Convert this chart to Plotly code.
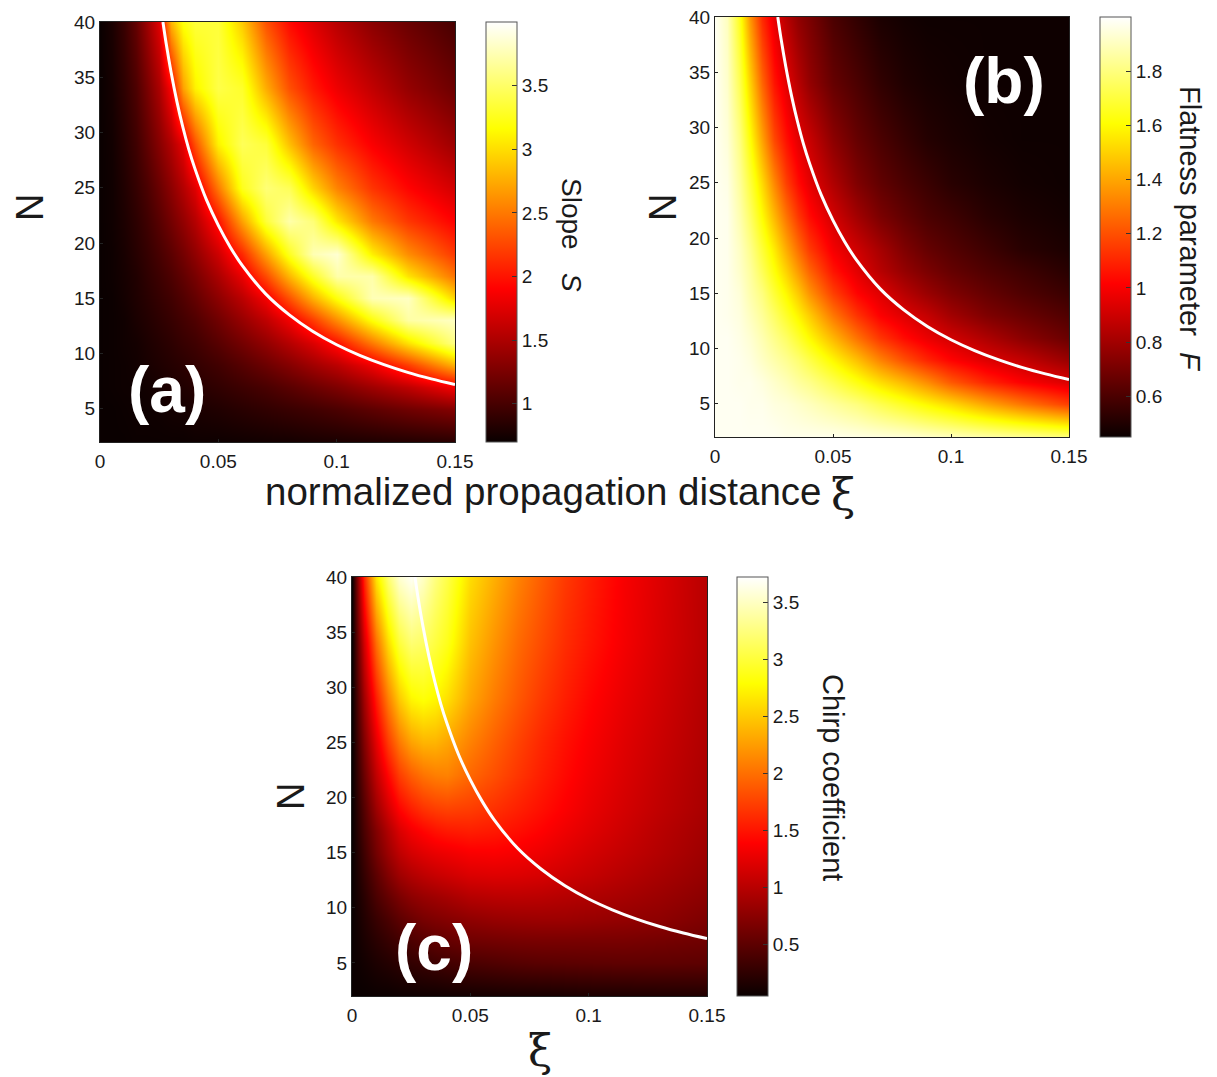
import plotly.graph_objects as go

W, H = 1217, 1077

XI = [0, .005, .01, .015, .02, .025, .03, .035, .04, .05, .06, .07, .08, .09, .10, .115, .13, .15]
NN = [2, 5, 7, 9, 11, 13, 15, 17, 19, 22, 25, 29, 34, 40]

SLOPE = [
    [.70,.70,.70,.71,.71,.71,.71,.71,.72,.72,.73,.74,.75,.77,.78,.80,.82,.85],
    [.70,.70,.71,.72,.72,.73,.75,.76,.78,.81,.85,.89,.93,.97,1.02,1.11,1.20,1.30],
    [.70,.71,.72,.72,.74,.76,.79,.81,.84,.89,.95,1.01,1.09,1.18,1.27,1.43,1.59,1.86],
    [.70,.71,.72,.74,.77,.80,.83,.86,.90,.97,1.07,1.18,1.30,1.44,1.57,1.83,2.2,2.78],
    [.70,.71,.73,.75,.79,.83,.87,.92,.96,1.08,1.22,1.37,1.54,1.73,1.98,2.5,3.02,3.6],
    [.70,.71,.73,.78,.82,.87,.92,.98,1.04,1.20,1.39,1.59,1.84,2.2,2.6,3.19,3.7,3.8],
    [.70,.71,.75,.80,.85,.91,.97,1.05,1.14,1.34,1.57,1.86,2.3,2.78,3.2,3.76,3.8,2.95],
    [.70,.72,.76,.81,.88,.95,1.03,1.13,1.24,1.49,1.8,2.27,2.8,3.29,3.72,3.72,3.03,2.47],
    [.70,.72,.77,.84,.91,1.0,1.1,1.22,1.36,1.66,2.1,2.7,3.26,3.75,3.85,3.09,2.6,2.18],
    [.70,.73,.79,.87,.96,1.08,1.22,1.37,1.54,1.98,2.7,3.35,3.72,3.55,3.05,2.5,2.17,1.9],
    [.70,.73,.81,.91,1.02,1.17,1.34,1.53,1.75,2.5,3.25,3.55,3.45,2.95,2.55,2.16,1.92,1.68],
    [.70,.74,.84,.96,1.12,1.31,1.52,1.78,2.3,3.1,3.45,3.35,2.85,2.4,2.14,1.88,1.67,1.42],
    [.70,.76,.88,1.03,1.24,1.49,1.9,2.7,3.1,3.4,3.3,2.75,2.3,2.02,1.82,1.6,1.38,1.18],
    [.70,.78,.93,1.14,1.42,1.75,2.8,3.2,3.35,3.35,2.9,2.3,1.95,1.74,1.55,1.33,1.17,1.0],
]

FLATNESS = [
    [1.98,1.98,1.98,1.98,1.98,1.98,1.97,1.97,1.97,1.97,1.96,1.95,1.94,1.92,1.90,1.87,1.84,1.80],
    [1.98,1.98,1.98,1.97,1.97,1.95,1.94,1.92,1.90,1.85,1.80,1.73,1.66,1.59,1.52,1.40,1.29,1.16],
    [1.98,1.98,1.97,1.97,1.95,1.92,1.89,1.85,1.82,1.73,1.63,1.53,1.44,1.34,1.22,1.10,1.01,.93],
    [1.98,1.98,1.97,1.95,1.91,1.87,1.83,1.78,1.72,1.59,1.46,1.32,1.20,1.10,1.02,.94,.88,.78],
    [1.98,1.98,1.96,1.93,1.88,1.82,1.76,1.68,1.60,1.44,1.28,1.14,1.04,.97,.91,.83,.75,.67],
    [1.98,1.97,1.95,1.90,1.84,1.76,1.67,1.58,1.49,1.29,1.13,1.01,.94,.88,.80,.72,.67,.61],
    [1.98,1.97,1.94,1.87,1.80,1.69,1.59,1.48,1.36,1.16,1.02,.94,.85,.78,.72,.66,.61,.56],
    [1.98,1.97,1.92,1.85,1.74,1.62,1.50,1.37,1.25,1.06,.95,.85,.77,.71,.66,.61,.57,.52],
    [1.98,1.97,1.91,1.82,1.69,1.56,1.41,1.27,1.15,.99,.90,.81,.72,.66,.62,.57,.52,.49],
    [1.98,1.97,1.88,1.76,1.60,1.44,1.28,1.14,1.04,.91,.80,.71,.65,.60,.57,.52,.49,.47],
    [1.98,1.96,1.85,1.70,1.52,1.33,1.16,1.04,.96,.83,.72,.65,.60,.56,.52,.49,.47,.46],
    [1.98,1.94,1.81,1.61,1.39,1.18,1.05,.95,.89,.75,.66,.60,.55,.51,.49,.47,.46,.46],
    [1.98,1.92,1.74,1.50,1.25,1.06,.95,.85,.77,.66,.60,.54,.50,.48,.47,.46,.46,.46],
    [1.98,1.90,1.66,1.36,1.11,.96,.85,.76,.71,.60,.54,.49,.47,.46,.46,.46,.46,.46],
]

CHIRP = [
    [.05,.05,.06,.06,.07,.07,.08,.08,.09,.10,.11,.12,.12,.13,.14,.15,.16,.17],
    [.05,.10,.15,.19,.23,.27,.30,.33,.36,.40,.43,.46,.48,.49,.50,.51,.51,.50],
    [.05,.14,.22,.29,.35,.41,.46,.51,.54,.60,.62,.64,.65,.65,.65,.65,.63,.60],
    [.05,.18,.30,.40,.50,.58,.65,.69,.72,.78,.82,.84,.85,.85,.83,.80,.77,.68],
    [.05,.22,.40,.54,.66,.76,.82,.86,.90,.98,1.01,1.02,1.01,.98,.95,.90,.84,.75],
    [.05,.28,.50,.70,.86,.96,1.03,1.08,1.12,1.19,1.21,1.20,1.17,1.12,1.07,.99,.91,.81],
    [.05,.34,.62,.85,1.03,1.15,1.22,1.27,1.30,1.36,1.37,1.34,1.29,1.22,1.15,1.06,.97,.85],
    [.05,.40,.70,.96,1.18,1.32,1.41,1.48,1.52,1.55,1.52,1.46,1.39,1.30,1.22,1.11,1.00,.88],
    [.05,.46,.85,1.15,1.40,1.55,1.66,1.72,1.75,1.72,1.65,1.56,1.47,1.37,1.27,1.15,1.04,.91],
    [.05,.58,1.05,1.42,1.72,1.90,2.02,2.08,2.10,1.95,1.82,1.68,1.55,1.43,1.32,1.19,1.07,.93],
    [.05,.70,1.25,1.72,2.05,2.28,2.38,2.38,2.30,2.10,1.92,1.75,1.60,1.47,1.36,1.22,1.10,.95],
    [.05,.88,1.55,2.10,2.50,2.75,2.82,2.75,2.62,2.30,2.07,1.87,1.70,1.55,1.42,1.27,1.14,.97],
    [.05,1.15,2.00,2.60,3.00,3.20,3.15,3.02,2.88,2.45,2.20,1.97,1.80,1.63,1.50,1.33,1.18,1.00],
    [.05,1.60,2.65,3.20,3.55,3.68,3.50,3.25,3.05,2.60,2.35,2.10,1.90,1.70,1.55,1.35,1.20,1.00],
]

CURVE_XI = [.0266, .028, .03, .0325, .035, .0375, .04, .045, .05, .055, .06, .07, .08, .09, .10, .11, .12, .13, .14, .15]
CURVE_N = [40, 38, 35.5, 32.8, 30.5, 28.5, 26.8, 23.9, 21.6, 19.65, 18, 15.4, 13.5, 12, 10.8, 9.82, 9.0, 8.3, 7.71, 7.2]

X_TICKS = [0, .05, .1, .15]
X_LABELS = ["0", "0.05", "0.1", "0.15"]
Y_TICKS = [5, 10, 15, 20, 25, 30, 35, 40]

HOT = [[0, "rgb(10,0,0)"], [.365, "rgb(255,0,0)"], [.746, "rgb(255,255,0)"], [1, "rgb(255,255,255)"]]
FONT = "Liberation Sans"
TXT = "#1a1a1a"

# pixel frames of the three panels: left, right, top, bottom, colourbar left
PANELS = [
    dict(z=SLOPE, rng=(.7, 4.0), frame=(100, 455, 22, 442), cb=486, ticks=[1, 1.5, 2, 2.5, 3, 3.5]),
    dict(z=FLATNESS, rng=(.45, 2.0), frame=(715, 1069, 17, 437), cb=1100, ticks=[.6, .8, 1, 1.2, 1.4, 1.6, 1.8]),
    dict(z=CHIRP, rng=(.05, 3.72), frame=(352, 707, 577, 996), cb=737, ticks=[.5, 1, 1.5, 2, 2.5, 3, 3.5]),
]

fig = go.Figure()
layout = {}
for i, p in enumerate(PANELS, start=1):
    l, r, t, b = p["frame"]
    xn, yn = f"x{i}", f"y{i}"
    fig.add_trace(go.Heatmap(
        x=XI, y=NN, z=p["z"], xaxis=xn, yaxis=yn, colorscale=HOT, zsmooth="best",
        zmin=p["rng"][0], zmax=p["rng"][1],
        colorbar=dict(
            x=p["cb"] / W, xanchor="left", xpad=0, y=1 - (t + b) / 2 / H, yanchor="middle", ypad=0,
            len=(b - t) / H, lenmode="fraction", thickness=31, thicknessmode="pixels",
            outlinewidth=1, outlinecolor="#555", tickvals=p["ticks"],
            ticks="inside", ticklen=5, tickcolor="#333", tickwidth=1,
            tickfont=dict(family=FONT, size=19, color=TXT), ticklabelposition="outside",
        ),
    ))
    fig.add_trace(go.Scatter(
        x=CURVE_XI, y=CURVE_N, xaxis=xn, yaxis=yn, mode="lines", showlegend=False,
        line=dict(color="white", width=3, shape="spline"), hoverinfo="skip", cliponaxis=True,
    ))
    axis_common = dict(showgrid=False, zeroline=False, showline=True, mirror=True, linecolor="#222", linewidth=1,
                       ticks="inside", ticklen=3, tickcolor="#222",
                       tickfont=dict(family=FONT, size=19, color=TXT))
    layout[f"xaxis{i}"] = dict(domain=[l / W, r / W], range=[0, .15], anchor=yn, tickvals=X_TICKS, ticktext=X_LABELS,
                               ticklabelstandoff=2, **axis_common)
    layout[f"yaxis{i}"] = dict(domain=[1 - b / H, 1 - t / H], range=[2, 40], anchor=xn, tickvals=Y_TICKS,
                               **axis_common)

def note(x, y, text, size, color=TXT, angle=0, family=FONT):
    return dict(x=x / W, y=1 - y / H, xref="paper", yref="paper", text=text, showarrow=False,
                xanchor="center", yanchor="middle", textangle=angle,
                font=dict(family=family, size=size, color=color))

annotations = [
    note(167, 390, "<b>(a)</b>", 64, "white"),
    note(1004, 81, "<b>(b)</b>", 64, "white"),
    note(434, 948, "<b>(c)</b>", 64, "white"),
    note(30, 208, "N", 38, angle=-90),
    note(663, 208, "N", 38, angle=-90),
    note(291, 797, "N", 38, angle=-90),
    note(571, 235, "Slope   <i>S</i>", 28, angle=90),
    note(1190, 229, "Flatness parameter  <i>F</i>", 29, angle=90),
    note(833, 777, "Chirp coefficient", 29, angle=90),
    note(543, 491, "normalized propagation distance", 38.5),
    note(843, 494, "ξ", 44, family="DejaVu Serif"),
    note(540, 1050, "ξ", 44, family="DejaVu Serif"),
]

fig.update_layout(width=W, height=H, margin=dict(l=0, r=0, t=0, b=0, autoexpand=False), paper_bgcolor="white",
                  plot_bgcolor="white", showlegend=False, annotations=annotations, **layout)
fig.write_html("out.html", post_script="document.body.style.margin='0';", config={"displayModeBar": False})
